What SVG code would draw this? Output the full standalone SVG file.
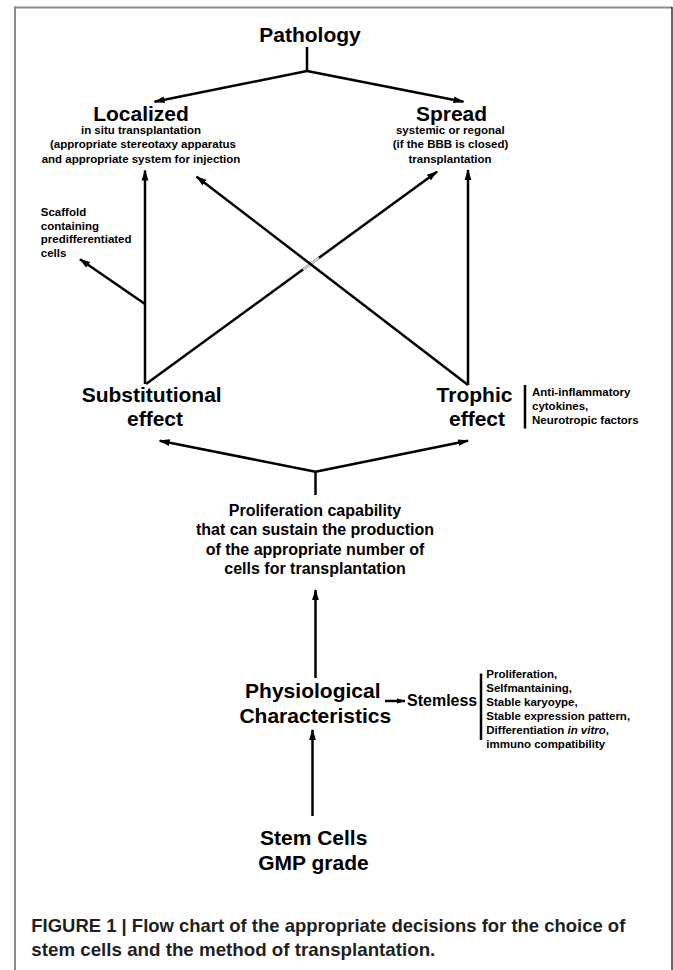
<svg xmlns="http://www.w3.org/2000/svg" width="673" height="970" viewBox="0 0 673 970">
<style>
text{font-family:"Liberation Sans",Arial,sans-serif;font-weight:bold;fill:#000}
.t{font-size:21px;text-anchor:middle}
.s{font-size:11.5px}
.sc{font-size:11.5px;text-anchor:middle}
.m{font-size:16px;text-anchor:middle}
.cap{font-size:18.5px;fill:#231f20}
.ln{stroke:#000;stroke-width:2.5;fill:none}
.bar{stroke:#000;stroke-width:2.5}
</style>
<defs>
<marker id="ah" markerWidth="12" markerHeight="8" refX="10" refY="4" orient="auto" markerUnits="userSpaceOnUse"><path d="M0,0.6 L11,4 L0,7.4 Z" fill="#000"/></marker>
<marker id="ahs" markerWidth="10" markerHeight="6" refX="8" refY="3" orient="auto" markerUnits="userSpaceOnUse"><path d="M0,0.5 L9,3 L0,5.5 Z" fill="#000"/></marker>
</defs>
<rect width="673" height="970" fill="#fff"/>
<g id="frame">
<line x1="15" y1="7.5" x2="672" y2="7.5" stroke="#8a8a8a" stroke-width="2"/>
<line x1="15" y1="6.5" x2="15" y2="970" stroke="#8a8a8a" stroke-width="2"/>
<line x1="672" y1="7" x2="672" y2="970" stroke="#000" stroke-width="1.2"/>
</g>
<g id="connectors">
<polyline class="ln" points="307,47 307,71"/>
<line class="ln" x1="307" y1="71" x2="154.5" y2="101.7" marker-end="url(#ah)"/>
<line class="ln" x1="307" y1="71" x2="463.5" y2="101.7" marker-end="url(#ah)"/>
<line class="ln" x1="145" y1="384" x2="145" y2="170.5" marker-end="url(#ah)"/>
<line class="ln" x1="145" y1="304" x2="80" y2="259.3" marker-end="url(#ah)"/>
<line class="ln" x1="468" y1="385" x2="468" y2="170" marker-end="url(#ah)"/>
<line class="ln" x1="146" y1="384" x2="437" y2="171.7" marker-end="url(#ah)"/>
<line x1="303" y1="269.5" x2="319" y2="257.8" stroke="#d0d0d0" stroke-width="2.5"/>
<line class="ln" x1="468" y1="385" x2="196.6" y2="176.7" marker-end="url(#ah)"/>
<line class="ln" x1="315.5" y1="495" x2="315.5" y2="471.7"/>
<line class="ln" x1="315.5" y1="471.7" x2="159.7" y2="440.7" marker-end="url(#ah)"/>
<line class="ln" x1="315.5" y1="471.7" x2="468" y2="440.7" marker-end="url(#ah)"/>
<line class="ln" x1="315.5" y1="678" x2="315.5" y2="590" marker-end="url(#ah)"/>
<line class="ln" x1="312.5" y1="816" x2="312.5" y2="730" marker-end="url(#ah)"/>
<line class="ln" x1="385" y1="701" x2="405" y2="701" marker-end="url(#ahs)"/>
</g>
<g id="pathology"><text class="t" x="310" y="42">Pathology</text></g>
<g id="localized">
<text class="t" x="141" y="121">Localized</text>
<text class="sc" x="141" y="134">in situ transplantation</text>
<text class="sc" x="143" y="148.3">(appropriate stereotaxy apparatus</text>
<text class="sc" x="141" y="162.7">and appropriate system for injection</text>
</g>
<g id="spread">
<text class="t" x="451.5" y="121">Spread</text>
<text class="sc" x="450.3" y="134">systemic or regonal</text>
<text class="sc" x="450.5" y="148.3">(if the BBB is closed)</text>
<text class="sc" x="450" y="162.7">transplantation</text>
</g>
<g id="scaffold">
<text class="s" x="40.8" y="215.7">Scaffold</text>
<text class="s" x="40.8" y="229.6">containing</text>
<text class="s" x="40.8" y="243.4">predifferentiated</text>
<text class="s" x="40.8" y="257.2">cells</text>
</g>
<g id="substitutional">
<text class="t" x="151.7" y="401.7">Substitutional</text>
<text class="t" x="155" y="426">effect</text>
</g>
<g id="trophic">
<text class="t" x="474.5" y="401.7">Trophic</text>
<text class="t" x="477" y="426">effect</text>
<line class="bar" x1="525" y1="385" x2="525" y2="428.5"/>
<text class="s" x="532" y="396">Anti-inflammatory</text>
<text class="s" x="532" y="410">cytokines,</text>
<text class="s" x="532" y="424">Neurotropic factors</text>
</g>
<g id="proliferation">
<text class="m" x="315" y="515.5">Proliferation capability</text>
<text class="m" x="315" y="535">that can sustain the production</text>
<text class="m" x="315" y="554.5">of the appropriate number of</text>
<text class="m" x="315" y="574">cells for transplantation</text>
</g>
<g id="physiological">
<text class="t" x="312.8" y="698.3">Physiological</text>
<text class="t" x="315.3" y="722.7">Characteristics</text>
</g>
<g id="stemless">
<text x="407" y="706" style="font-size:16px">Stemless</text>
<line class="bar" x1="481" y1="673.5" x2="481" y2="740"/>
<text class="s" x="486.3" y="678">Proliferation,</text>
<text class="s" x="486.3" y="692">Selfmantaining,</text>
<text class="s" x="486.3" y="706">Stable karyoype,</text>
<text class="s" x="486.3" y="720.3">Stable expression pattern,</text>
<text class="s" x="486.3" y="734">Differentiation <tspan font-style="italic">in vitro</tspan>,</text>
<text class="s" x="486.3" y="748">immuno compatibility</text>
</g>
<g id="stemcells">
<text class="t" x="313.7" y="845">Stem Cells</text>
<text class="t" x="313.4" y="869.5">GMP grade</text>
</g>
<g id="caption">
<text class="cap" x="31.3" y="931.7" textLength="594" lengthAdjust="spacingAndGlyphs">FIGURE 1 | Flow chart of the appropriate decisions for the choice of</text>
<text class="cap" x="31.3" y="956" textLength="404" lengthAdjust="spacingAndGlyphs">stem cells and the method of transplantation.</text>
</g>
</svg>
